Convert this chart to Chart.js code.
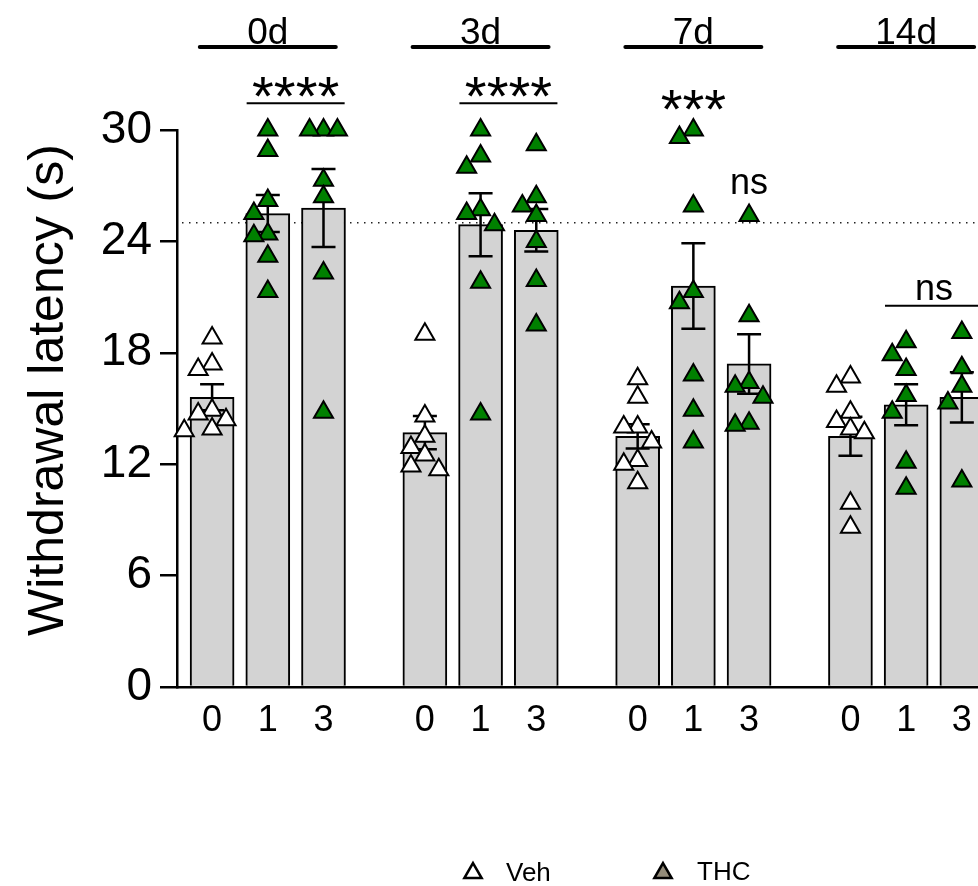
<!DOCTYPE html>
<html>
<head>
<meta charset="utf-8">
<script src="https://cdn.jsdelivr.net/npm/chart.js@4.4.1/dist/chart.umd.min.js"></script>
<style>
html, body { margin: 0; padding: 0; background: #fff; overflow: hidden; }
#wrap { width: 978px; height: 886px; }
</style>
</head>
<body>
<div id="wrap"><canvas id="chart"></canvas></div>
<script>
// grupos (dias) e doses
const groups = ['0d', '3d', '7d', '14d'];
const doses = ['0', '1', '3'];

// média e EPM de cada barra (0d: 0,1,3 | 3d: 0,1,3 | ...)
const barMeans = [15.6, 25.5, 25.8, 13.7, 24.9, 24.6, 13.5, 21.6, 17.4, 13.5, 15.2, 15.6];
const barSems = [0.7, 1.0, 2.1, 0.9, 1.7, 1.15, 0.65, 2.3, 1.6, 1.05, 1.1, 1.35];

// pontos individuais
const veh0d = [18.8, 17.4, 17.1, 14.9, 14.7, 14.4, 13.9, 13.8];
const thc1_0d = [30, 28.9, 26.2, 25.5, 24.4, 24.3, 23.2, 21.3];
const thc3_0d = [30, 30, 30, 27.3, 26.4, 22.3, 14.8];
const veh3d = [19.0, 14.6, 13.5, 12.9, 12.5, 11.9, 11.7];
const thc1_3d = [30, 28.6, 28.0, 25.7, 25.5, 24.9, 21.8, 14.7];
const thc3_3d = [29.2, 26.4, 25.9, 25.4, 24.0, 21.9, 19.5];
const veh7d = [16.6, 15.6, 14.0, 14.0, 13.2, 12.2, 12.0, 11.0];
const thc1_7d = [30, 29.6, 25.9, 21.3, 20.7, 16.8, 14.9, 13.2];
const thc3_7d = [25.4, 20.0, 16.4, 16.2, 15.6, 14.2, 14.1];
const veh14d = [16.7, 16.2, 14.8, 14.3, 13.9, 13.7, 9.9, 8.6];
const thc1_14d = [18.6, 17.9, 17.1, 15.7, 14.8, 12.1, 10.7];
const thc3_14d = [19.1, 17.2, 16.2, 15.3, 11.1];

const cutoff = 25;
const sigMarks = ['****', '****', '***', 'ns', 'ns'];
const legendLabels = ['Veh', 'THC'];
const yTitle = 'Withdrawal latency (s)';

const FONT = '"Liberation Sans", Arial, sans-serif';
const GROUP_STEP = 3.82;
const JITTER = 0.25;

const pointSets = [veh0d, thc1_0d, thc3_0d, veh3d, thc1_3d, thc3_3d,
                   veh7d, thc1_7d, thc3_7d, veh14d, thc1_14d, thc3_14d];

function barX(i) {
    return Math.floor(i / 3) * GROUP_STEP + (i % 3);
}

// espalha os pontos que se sobrepõem (estilo scatter do Prism)
function spread(values, center) {
    const placed = [];
    const sorted = values.slice().sort((a, b) => b - a);
    return sorted.map(v => {
        let k = 0;
        for (const c of [0, -1, 1, -2, 2]) {
            const hit = placed.some(p => Math.abs(p.v - v) < 0.9 && p.k === c);
            if (!hit) { k = c; break; }
        }
        placed.push({ v, k });
        return { x: center + k * JITTER, y: v };
    });
}

const vehPoints = [];
const thcPoints = [];
pointSets.forEach((vals, i) => {
    const pts = spread(vals, barX(i));
    if (i % 3 === 0) vehPoints.push(...pts);
    else thcPoints.push(...pts);
});

function inkText(ctx, text, x, yc, font, align) {
    ctx.font = font;
    ctx.textAlign = align || 'center';
    ctx.textBaseline = 'alphabetic';
    const m = ctx.measureText(text);
    ctx.fillText(text, x, yc + (m.actualBoundingBoxAscent - m.actualBoundingBoxDescent) / 2);
}

function triangle(ctx, x, y, r) {
    ctx.beginPath();
    for (let k = 0; k < 3; k++) {
        const a = k * 2 * Math.PI / 3;
        const px = x + Math.sin(a) * r;
        const py = y - Math.cos(a) * r;
        if (k === 0) ctx.moveTo(px, py); else ctx.lineTo(px, py);
    }
    ctx.closePath();
}

const annotate = {
    id: 'annotate',
    beforeDatasetsDraw(chart) {
        const { ctx, chartArea, scales } = chart;
        const y = scales.y.getPixelForValue(cutoff);
        ctx.save();
        ctx.strokeStyle = '#222';
        ctx.lineWidth = 1.5;
        ctx.setLineDash([1.5, 5.5]);
        ctx.beginPath();
        ctx.moveTo(chartArea.left + 5, y);
        ctx.lineTo(chartArea.right, y);
        ctx.stroke();
        ctx.restore();
    },
    afterDatasetDraw(chart, args) {
        if (args.index !== 2) return;
        const { ctx, scales } = chart;
        ctx.save();
        ctx.strokeStyle = '#000';
        ctx.lineWidth = 2.5;
        barMeans.forEach((m, i) => {
            const x = scales.x.getPixelForValue(barX(i));
            const top = scales.y.getPixelForValue(m + barSems[i]);
            const bot = scales.y.getPixelForValue(m - barSems[i]);
            ctx.beginPath();
            ctx.moveTo(x, top); ctx.lineTo(x, bot);
            ctx.moveTo(x - 12, top); ctx.lineTo(x + 12, top);
            ctx.moveTo(x - 12, bot); ctx.lineTo(x + 12, bot);
            ctx.stroke();
        });
        ctx.restore();
    },
    afterDraw(chart) {
        const { ctx, scales } = chart;
        const xs = scales.x, ys = scales.y;
        ctx.save();
        ctx.fillStyle = '#000';
        ctx.strokeStyle = '#000';

        // rótulos dos dias com linha
        groups.forEach((g, gi) => {
            const cx = xs.getPixelForValue(barX(gi * 3 + 1));
            inkText(ctx, g, cx, 30, '37px ' + FONT);
            ctx.lineWidth = 4;
            ctx.lineCap = 'round';
            ctx.beginPath();
            ctx.moveTo(cx - 68, 47);
            ctx.lineTo(cx + 68, 47);
            ctx.stroke();
        });

        // significância
        const sig = [
            { from: 1, to: 2, y: 32.3, line: true },
            { from: 4, to: 5, y: 32.3, line: true },
            { from: 7, to: 7, y: 31.6, line: false },
            { from: 8, to: 8, y: 27.1, line: false },
            { from: 10, to: 11, y: 21.4, line: true }
        ];
        sig.forEach((s, i) => {
            const x1 = xs.getPixelForValue(barX(s.from));
            const x2 = xs.getPixelForValue(barX(s.to));
            const cx = (x1 + x2) / 2;
            const yc = ys.getPixelForValue(s.y);
            const isStar = sigMarks[i].includes('*');
            inkText(ctx, sigMarks[i], cx, yc, (isStar ? '56px ' : '36px ') + FONT);
            if (s.line) {
                ctx.lineWidth = 2;
                ctx.lineCap = 'butt';
                ctx.beginPath();
                ctx.moveTo(cx - 49, yc + 16);
                ctx.lineTo(cx + 49, yc + 16);
                ctx.stroke();
            }
        });

        // título do eixo y
        ctx.save();
        ctx.translate(50, 390);
        ctx.rotate(-Math.PI / 2);
        inkText(ctx, yTitle, 0, 0, '50px ' + FONT);
        ctx.restore();

        // legenda
        ctx.lineWidth = 2.5;
        ctx.lineJoin = 'miter';
        triangle(ctx, 473, 873, 10);
        ctx.fillStyle = '#fff';
        ctx.fill();
        ctx.stroke();
        triangle(ctx, 663, 873, 10);
        ctx.fillStyle = '#948c7a';
        ctx.fill();
        ctx.stroke();
        ctx.fillStyle = '#000';
        inkText(ctx, legendLabels[0], 506, 871, '26px ' + FONT, 'left');
        inkText(ctx, legendLabels[1], 697, 871, '26px ' + FONT, 'left');
        ctx.restore();
    }
};

const ctx = document.getElementById('chart').getContext('2d');
new Chart(ctx, {
    type: 'bar',
    data: {
        datasets: [
            {
                type: 'scatter', label: legendLabels[0], data: vehPoints,
                pointStyle: 'triangle', pointRadius: 11, backgroundColor: '#fff',
                borderColor: '#000', borderWidth: 2, clip: false, order: 0
            },
            {
                type: 'scatter', label: legendLabels[1], data: thcPoints,
                pointStyle: 'triangle', pointRadius: 11, backgroundColor: '#008000',
                borderColor: '#000', borderWidth: 2, clip: false, order: 1
            },
            {
                type: 'bar', data: barMeans.map((m, i) => ({ x: barX(i), y: m })),
                backgroundColor: '#d3d3d3', borderColor: '#000', borderWidth: 2,
                barThickness: 44, order: 2
            }
        ]
    },
    options: {
        responsive: true,
        maintainAspectRatio: false,
        animation: false,
        layout: { autoPadding: false, padding: { top: 130, left: 0, right: 0, bottom: 0 } },
        plugins: { legend: { display: false }, tooltip: { enabled: false } },
        scales: {
            x: {
                type: 'linear', min: -0.63, max: 13.75, offset: false,
                grid: { display: false, drawTicks: false, offset: false },
                border: { display: true, color: '#000', width: 2.5 },
                afterBuildTicks: s => { s.ticks = barMeans.map((m, i) => ({ value: barX(i) })); },
                afterFit: s => { s.height = 199; s.paddingRight = 0; s.paddingLeft = 0; },
                ticks: {
                    autoSkip: false, maxRotation: 0, padding: 12, color: '#000',
                    font: { family: FONT, size: 36 },
                    callback: (v, i) => doses[i % 3]
                }
            },
            y: {
                min: 0, max: 30,
                ticks: { stepSize: 6, padding: 8, color: '#000', font: { family: FONT, size: 46 } },
                grid: { drawOnChartArea: false, color: '#000', lineWidth: 2.5, tickLength: 17 },
                border: { color: '#000', width: 2.5 },
                afterFit: s => { s.width = 177; }
            }
        }
    },
    plugins: [annotate]
});
</script>
</body>
</html>
